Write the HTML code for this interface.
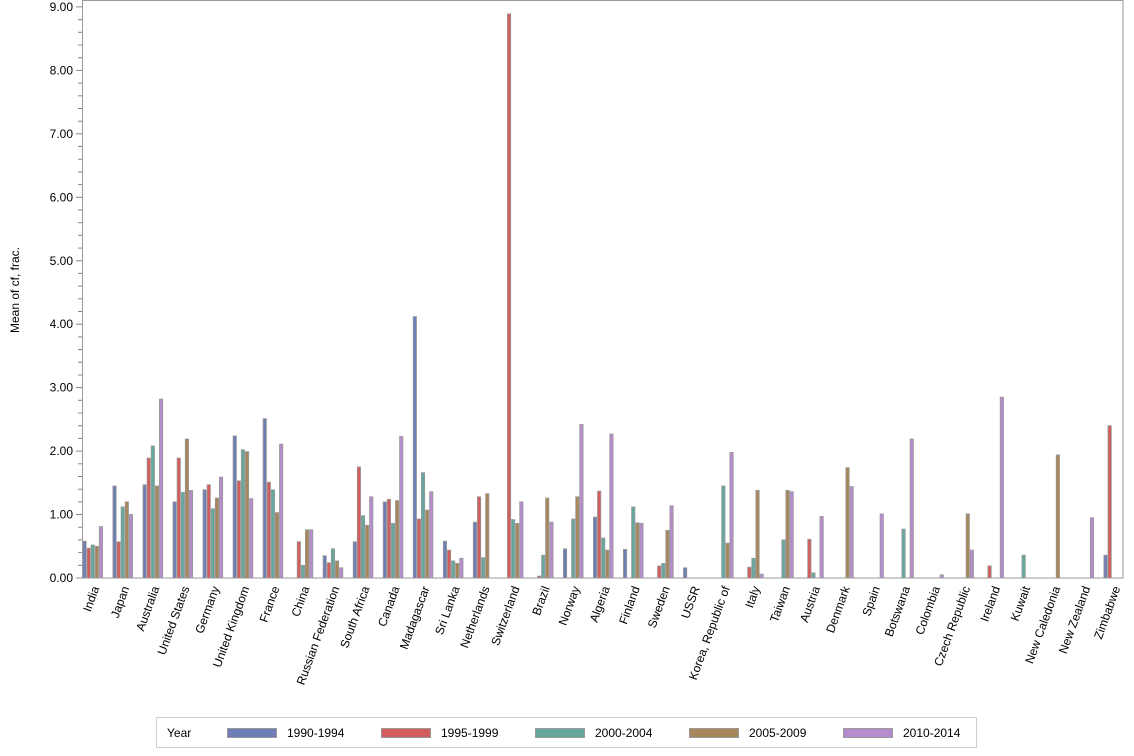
<!DOCTYPE html>
<html><head><meta charset="utf-8"><style>
html,body{margin:0;padding:0;background:#fff;}
svg{display:block;font-family:"Liberation Sans",sans-serif;}
</style></head><body>
<svg id="c" width="1134" height="756" xmlns="http://www.w3.org/2000/svg"></svg>
<script>
var s=document.getElementById('c');
var h='';
var cols=['#6f7db5','#d35c5c','#66a89d','#a8865b','#b68ccd'];
var data=[
['India',[0.58,0.47,0.52,0.50,0.81]],
['Japan',[1.45,0.57,1.12,1.20,1.00]],
['Australia',[1.47,1.89,2.08,1.45,2.82]],
['United States',[1.20,1.89,1.35,2.19,1.38]],
['Germany',[1.39,1.47,1.09,1.26,1.59]],
['United Kingdom',[2.24,1.53,2.02,1.99,1.25]],
['France',[2.51,1.51,1.39,1.03,2.11]],
['China',[0,0.57,0.20,0.76,0.76]],
['Russian Federation',[0.35,0.24,0.46,0.27,0.16]],
['South Africa',[0.57,1.75,0.98,0.83,1.28]],
['Canada',[1.20,1.24,0.86,1.22,2.23]],
['Madagascar',[4.12,0.93,1.66,1.07,1.36]],
['Sri Lanka',[0.58,0.44,0.27,0.23,0.31]],
['Netherlands',[0.88,1.28,0.32,1.33,0]],
['Switzerland',[0,8.89,0.92,0.86,1.20]],
['Brazil',[0,0.03,0.36,1.26,0.88]],
['Norway',[0.46,0,0.93,1.28,2.42]],
['Algeria',[0.96,1.37,0.63,0.44,2.27]],
['Finland',[0.45,0,1.12,0.87,0.86]],
['Sweden',[0,0.19,0.23,0.75,1.14]],
['USSR',[0.16,0,0,0,0]],
['Korea, Republic of',[0,0,1.45,0.55,1.98]],
['Italy',[0,0.17,0.31,1.38,0.06]],
['Taiwan',[0,0,0.60,1.38,1.36]],
['Austria',[0,0.61,0.08,0,0.97]],
['Denmark',[0,0,0,1.74,1.44]],
['Spain',[0,0,0,0,1.01]],
['Botswana',[0,0,0.77,0,2.19]],
['Colombia',[0,0,0,0,0.05]],
['Czech Republic',[0,0,0,1.01,0.44]],
['Ireland',[0,0.19,0,0,2.85]],
['Kuwait',[0,0,0.36,0,0]],
['New Caledonia',[0,0,0,1.94,0]],
['New Zealand',[0,0,0,0,0.95]],
['Zimbabwe',[0.36,2.40,0,0,0]]];
var y0=578,k=63.45;
h+='<rect x="82.5" y="0.5" width="1040.5" height="577.5" fill="none" stroke="#9a9a9a" stroke-width="1"/>';
for(var i=0;i<=45;i++){var v=i*0.2;var y=y0-v*k;var maj=(i%5==0);
 h+='<line x1="'+(maj?76:78)+'" x2="82" y1="'+y.toFixed(1)+'" y2="'+y.toFixed(1)+'" stroke="#888"/>';
 if(maj)h+='<text x="73" y="'+(y+4).toFixed(1)+'" font-size="12" text-anchor="end" fill="#000">'+(v).toFixed(2)+'</text>';}
h+='<text transform="translate(19,290) rotate(-90)" font-size="12" text-anchor="middle">Mean of cf, frac.</text>';
for(var g=0;g<data.length;g++){var x0=82.4+g*30.03;
 for(var b=0;b<5;b++){var v=data[g][1][b];if(v<=0)continue;var hh=v*k;
  h+='<rect x="'+(x0+b*4.1+0.5).toFixed(1)+'" y="'+(y0-hh).toFixed(1)+'" width="3.3" height="'+hh.toFixed(1)+'" fill="'+cols[b]+'" stroke="#9a9a9a" stroke-width="0.8"/>';}
 var cx=x0+14;
 h+='<text transform="translate('+(cx+3).toFixed(1)+',588) rotate(-70)" font-size="12" text-anchor="end">'+data[g][0]+'</text>';}
h+='<rect x="156.5" y="717.5" width="820" height="30" fill="none" stroke="#cfcfcf"/>';
h+='<text x="167" y="737" font-size="12">Year</text>';
var labs=['1990-1994','1995-1999','2000-2004','2005-2009','2010-2014'];
for(var i=0;i<5;i++){var lx=227+i*154;
 h+='<rect x="'+(lx+0.5)+'" y="728.5" width="49" height="9" fill="'+cols[i]+'" stroke="#9a9a9a"/>';
 h+='<text x="'+(lx+60)+'" y="737" font-size="12">'+labs[i]+'</text>';}
s.innerHTML=h;
</script>
</body></html>
